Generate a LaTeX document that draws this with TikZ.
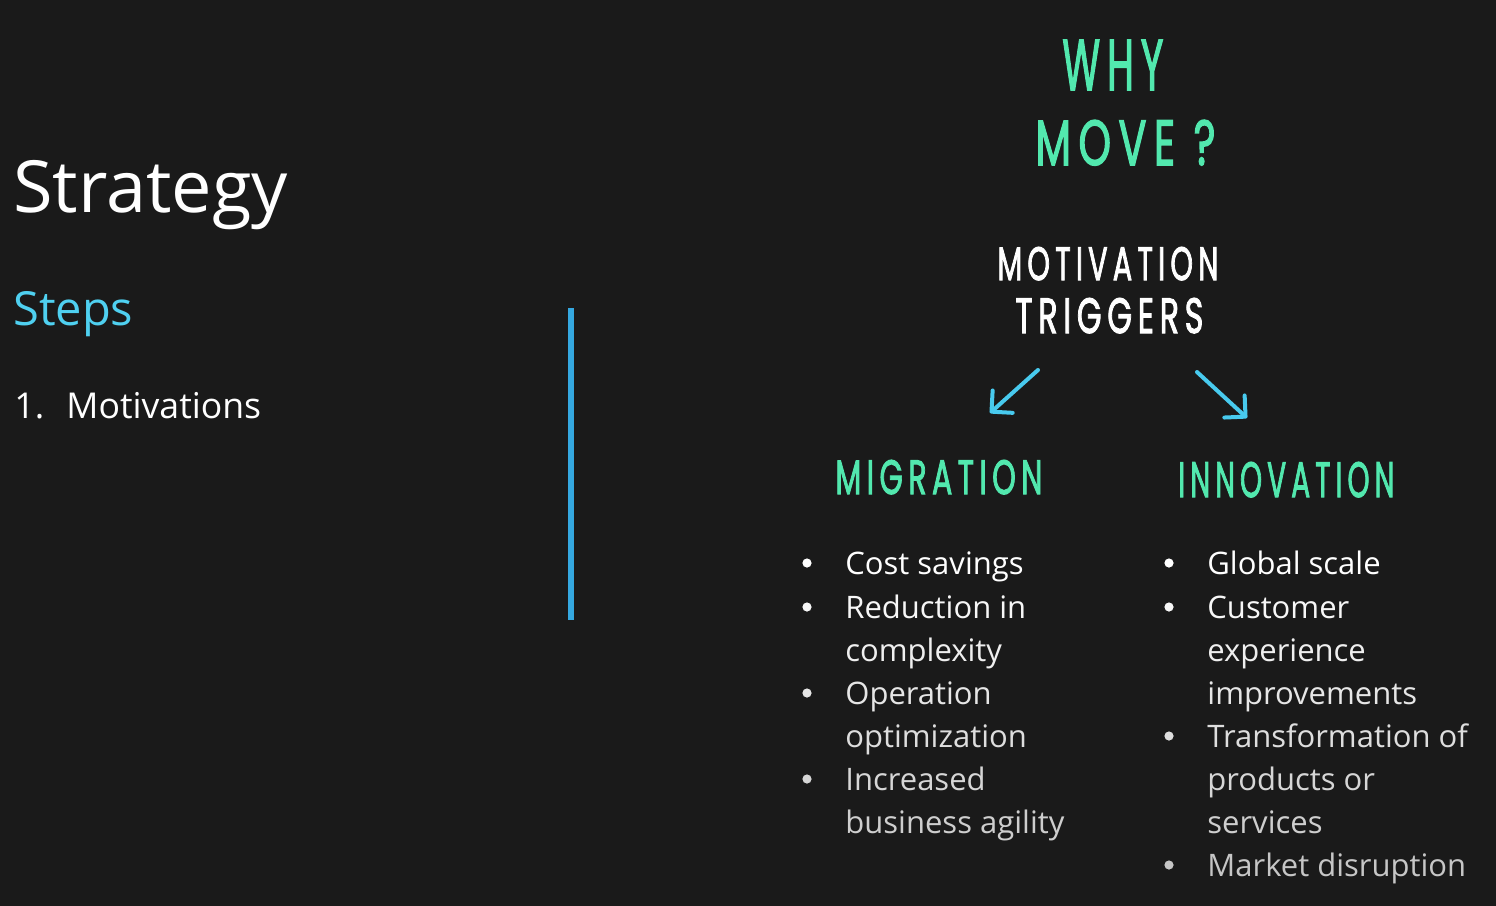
\documentclass[tikz,border=0pt]{standalone}
\usepackage{fontspec}
\usepackage{graphicx}
\setmainfont{Open Sans}
\newfontfamily\handfont{Poppins}[LetterSpace=18, FakeBold=2.4]
\usetikzlibrary{arrows.meta}

\definecolor{bg}{HTML}{1A1A1A}
\definecolor{mint}{HTML}{52E8AE}
\definecolor{sky}{HTML}{4FD0F0}
\definecolor{arrowblue}{HTML}{48CAEE}
\definecolor{rule}{HTML}{35A8E0}
\definecolor{g1}{HTML}{FFFFFF}
\definecolor{g2}{HTML}{F7F7F7}
\definecolor{g3}{HTML}{EFEFEF}
\definecolor{g4}{HTML}{E6E6E6}
\definecolor{g5}{HTML}{DEDEDE}
\definecolor{g6}{HTML}{D6D6D6}
\definecolor{g7}{HTML}{CECECE}
\definecolor{g8}{HTML}{C6C6C6}

% hand-lettered words: width, cap height, text
\newcommand{\handword}[3]{\resizebox{#1}{#2}{\handfont #3}}

\begin{document}
\begin{tikzpicture}[x=0.5pt,y=-0.5pt,
  base/.style={anchor=base west, inner sep=0pt},
  heading/.style={base, text=white, font=\fontsize{36}{44}\selectfont},
  subheading/.style={base, text=sky, font=\fontsize{23.5}{28}\selectfont},
  stepitem/.style={base, text=white, font=\fontsize{17.8}{21}\selectfont},
  hand/.style={base},
  item/.style={base, font=\fontsize{15.5}{18}\selectfont},
  dot/.style={circle, fill, inner sep=0pt, minimum size=4.6pt},
  trigarrow/.style={arrowblue, line width=2pt, line cap=round, line join=round,
    -{Straight Barb[length=7.5pt,width=15pt,line cap=round,line join=round]}}
]
\fill[bg] (0,0) rectangle (1496,906);
\useasboundingbox (0,0) rectangle (1496,906);

% left column
\node[heading] (title) at (13,212) {Strategy};
\node[subheading] (steps) at (13,325) {Steps};
\node[stepitem] (num) at (14,418) {1.};
\node[stepitem] (motiv) at (66,418) {Motivations};

% divider
\fill[rule] (568,308) rectangle (574,620);
\coordinate (divider) at (571,464);

% hand-lettered headings
\node[hand, text=mint] (why) at (1062,90) {\handword{50.5pt}{25pt}{WHY}};
\node[hand, text=mint] (move) at (1035,165) {\handword{90pt}{22.5pt}{MOVE ?}};
\node[hand, text=white] (motivation) at (997,280) {\handword{110.5pt}{16.5pt}{MOTIVATION}};
\node[hand, text=white] (triggers) at (1015,333) {\handword{94pt}{17.5pt}{TRIGGERS}};
\node[hand, text=mint] (migration) at (835,494) {\handword{103.5pt}{17pt}{MIGRATION}};
\node[hand, text=mint] (innovation) at (1178,497) {\handword{108pt}{17.5pt}{INNOVATION}};

% arrows from the triggers to the two branches
\coordinate (la) at (1038,370);
\coordinate (lb) at (990,413);
\coordinate (ra) at (1197,372);
\coordinate (rb) at (1247,418);
\draw[trigarrow] (la) -- (lb);
\draw[trigarrow] (ra) -- (rb);

% migration list
\node[item, text=g1] (m1) at (845,574) {Cost savings};
\node[item, text=g2] (m2) at (845,618) {Reduction in};
\node[item, text=g3] (m3) at (845,661) {complexity};
\node[item, text=g4] (m4) at (845,704) {Operation};
\node[item, text=g5] (m5) at (845,747) {optimization};
\node[item, text=g6] (m6) at (845,790) {Increased};
\node[item, text=g7] (m7) at (845,833) {business agility};
\node[dot, g1] (md1) at (807,563) {};
\node[dot, g2] (md2) at (807,607) {};
\node[dot, g4] (md4) at (807,693) {};
\node[dot, g6] (md6) at (807,779) {};

% innovation list
\node[item, text=g1] (i1) at (1207,574) {Global scale};
\node[item, text=g2] (i2) at (1207,618) {Customer};
\node[item, text=g3] (i3) at (1207,661) {experience};
\node[item, text=g4] (i4) at (1207,704) {improvements};
\node[item, text=g5] (i5) at (1207,747) {Transformation of};
\node[item, text=g6] (i6) at (1207,790) {products or};
\node[item, text=g7] (i7) at (1207,833) {services};
\node[item, text=g8] (i8) at (1207,876) {Market disruption};
\node[dot, g1] (id1) at (1169,563) {};
\node[dot, g2] (id2) at (1169,607) {};
\node[dot, g5] (id5) at (1169,736) {};
\node[dot, g8] (id8) at (1169,865) {};
\end{tikzpicture}
\end{document}
